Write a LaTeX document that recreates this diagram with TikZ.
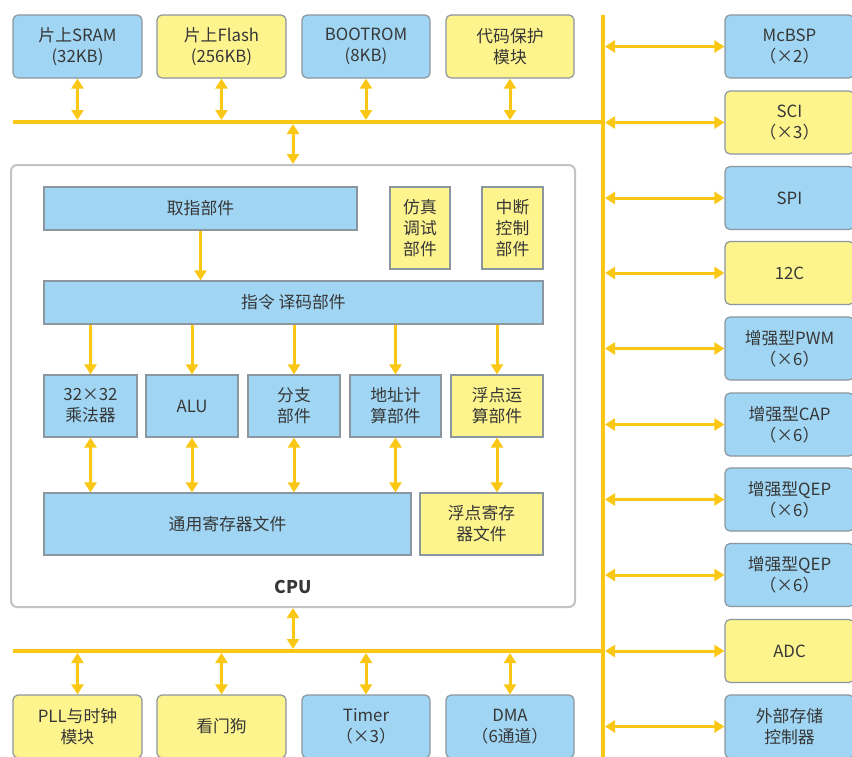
\documentclass[tikz,border=0pt]{standalone}
\usepackage{fontspec}
\setmainfont{Noto Sans CJK SC}
\usetikzlibrary{arrows.meta}
\definecolor{bfill}{RGB}{160,214,244}
\definecolor{yfill}{RGB}{253,244,142}
\definecolor{bdr}{RGB}{140,150,158}
\definecolor{gold}{RGB}{250,200,20}
\definecolor{txt}{RGB}{55,55,55}
\definecolor{cpubdr}{RGB}{195,195,195}
\tikzset{
  box/.style={draw=bdr, line width=1.2pt, text=txt, align=center, inner sep=0pt,
     font=\fontsize{16.8}{21}\selectfont},
  outer/.style={box, rounded corners=5pt, minimum height=63pt},
  inner/.style={box},
  blue/.style={fill=bfill},
  yel/.style={fill=yfill},
  bus/.style={draw=gold, line width=4pt},
  dbl/.style={draw=gold, line width=3pt, {Triangle[width=12pt,length=10pt]}-{Triangle[width=12pt,length=10pt]}},
  one/.style={draw=gold, line width=3pt, -{Triangle[width=12pt,length=10pt]}},
}
\begin{document}
\begin{tikzpicture}[x=1pt,y=-1pt]
\useasboundingbox (0,0) rectangle (852,756);
\clip (0,0) rectangle (852,756);
% top boxes
\node[outer,blue,minimum width=129pt] (sram)  at (77.5,46.5) {片上SRAM\\(32KB)};
\node[outer,yel,minimum width=129pt]  (flash) at (221.5,46.5) {片上Flash\\(256KB)};
\node[outer,blue,minimum width=128pt] (boot)  at (366,46.5) {BOOTROM\\(8KB)};
\node[outer,yel,minimum width=128pt]  (code)  at (510,46.5) {代码保护\\模块};
% bottom boxes
\node[outer,yel,minimum width=129pt]  (pll)   at (77.5,726.5) {PLL与时钟\\模块};
\node[outer,yel,minimum width=129pt]  (wd)    at (221.5,726.5) {看门狗};
\node[outer,blue,minimum width=128pt] (timer) at (366,726.5) {Timer\\（×3）};
\node[outer,blue,minimum width=128pt] (dma)   at (510,726.5) {DMA\\（6通道）};
% right boxes
\node[outer,blue,minimum width=129pt] (r1)  at (789.5,46.5) {McBSP\\（×2）};
\node[outer,yel,minimum width=129pt]  (r2)  at (789.5,122.5) {SCI\\（×3）};
\node[outer,blue,minimum width=129pt] (r3)  at (789.5,198) {SPI};
\node[outer,yel,minimum width=129pt]  (r4)  at (789.5,273) {12C};
\node[outer,blue,minimum width=129pt] (r5)  at (789.5,348.5) {增强型PWM\\（×6）};
\node[outer,blue,minimum width=129pt] (r6)  at (789.5,424.5) {增强型CAP\\（×6）};
\node[outer,blue,minimum width=129pt] (r7)  at (789.5,499.5) {增强型QEP\\（×6）};
\node[outer,blue,minimum width=129pt] (r8)  at (789.5,575) {增强型QEP\\（×6）};
\node[outer,yel,minimum width=129pt]  (r9)  at (789.5,651) {ADC};
\node[outer,blue,minimum width=129pt] (r10) at (789.5,726.5) {外部存储\\控制器};
% CPU
\node[draw=cpubdr, line width=2pt, rounded corners=6pt, fill=white, minimum width=564pt, minimum height=442pt, inner sep=0pt] (cpu) at (293,386) {};
\node[text=txt, font=\fontsize{17.5}{21}\selectfont\bfseries] (cpulbl) at (293,587) {CPU};
\node[inner,blue,minimum width=313pt,minimum height=43pt] (fetch) at (200.5,208.5) {取指部件};
\node[inner,yel,minimum width=60pt,minimum height=82pt] (sim) at (420,228) {仿真\\调试\\部件};
\node[inner,yel,minimum width=61pt,minimum height=82pt] (intr) at (512.5,228) {中断\\控制\\部件};
\node[inner,blue,minimum width=499pt,minimum height=43pt] (dec) at (293.5,302.5) {指令 译码部件};
\node[inner,blue,minimum width=93pt,minimum height=62pt] (mul) at (90.5,406) {32×32\\乘法器};
\node[inner,blue,minimum width=92pt,minimum height=62pt] (alu) at (192,406) {ALU};
\node[inner,blue,minimum width=92pt,minimum height=62pt] (br) at (294,406) {分支\\部件};
\node[inner,blue,minimum width=91pt,minimum height=62pt] (addr) at (395.5,406) {地址计\\算部件};
\node[inner,yel,minimum width=92pt,minimum height=62pt] (fpu) at (497,406) {浮点运\\算部件};
\node[inner,blue,minimum width=367pt,minimum height=62pt] (gpr) at (227.5,524) {通用寄存器文件};
\node[inner,yel,minimum width=123pt,minimum height=62pt] (fpr) at (481.5,524) {浮点寄存\\器文件};
% buses
\coordinate (tbl) at (13,122);
\coordinate (bbl) at (13,651);
\coordinate (vbt) at (603,15);
\coordinate (vbb) at (603,760);
\draw[bus] (tbl) -- (vbt |- tbl);
\draw[bus] (bbl) -- (vbb |- bbl);
\draw[bus] (vbt) -- (vbb);
% top arrows
\foreach \n in {sram,flash,boot,code}
  \draw[dbl, shorten >=2pt] (\n.south) -- (\n.south |- tbl);
\foreach \n in {pll,wd,timer,dma}
  \draw[dbl, shorten >=2pt] (\n.north) -- (\n.north |- bbl);
\draw[dbl, shorten <=2pt] (cpu.north |- tbl) -- (cpu.north);
\draw[dbl, shorten >=2pt] (cpu.south) -- (cpu.south |- bbl);
\foreach \n in {r1,r2,r3,r4,r5,r6,r7,r8,r9,r10}
  \draw[dbl, shorten <=2pt] (vbt |- \n.west) -- (\n.west);
% CPU inner arrows
\draw[one] (fetch.south) -- (fetch.south |- dec.north);
\foreach \n in {mul,alu,br,addr,fpu}
  \draw[one] (\n.north |- dec.south) -- (\n.north);
\foreach \n in {mul,alu,br,addr}
  \draw[dbl] (\n.south) -- (\n.south |- gpr.north);
\draw[dbl] (fpu.south) -- (fpu.south |- fpr.north);
\end{tikzpicture}
\end{document}
